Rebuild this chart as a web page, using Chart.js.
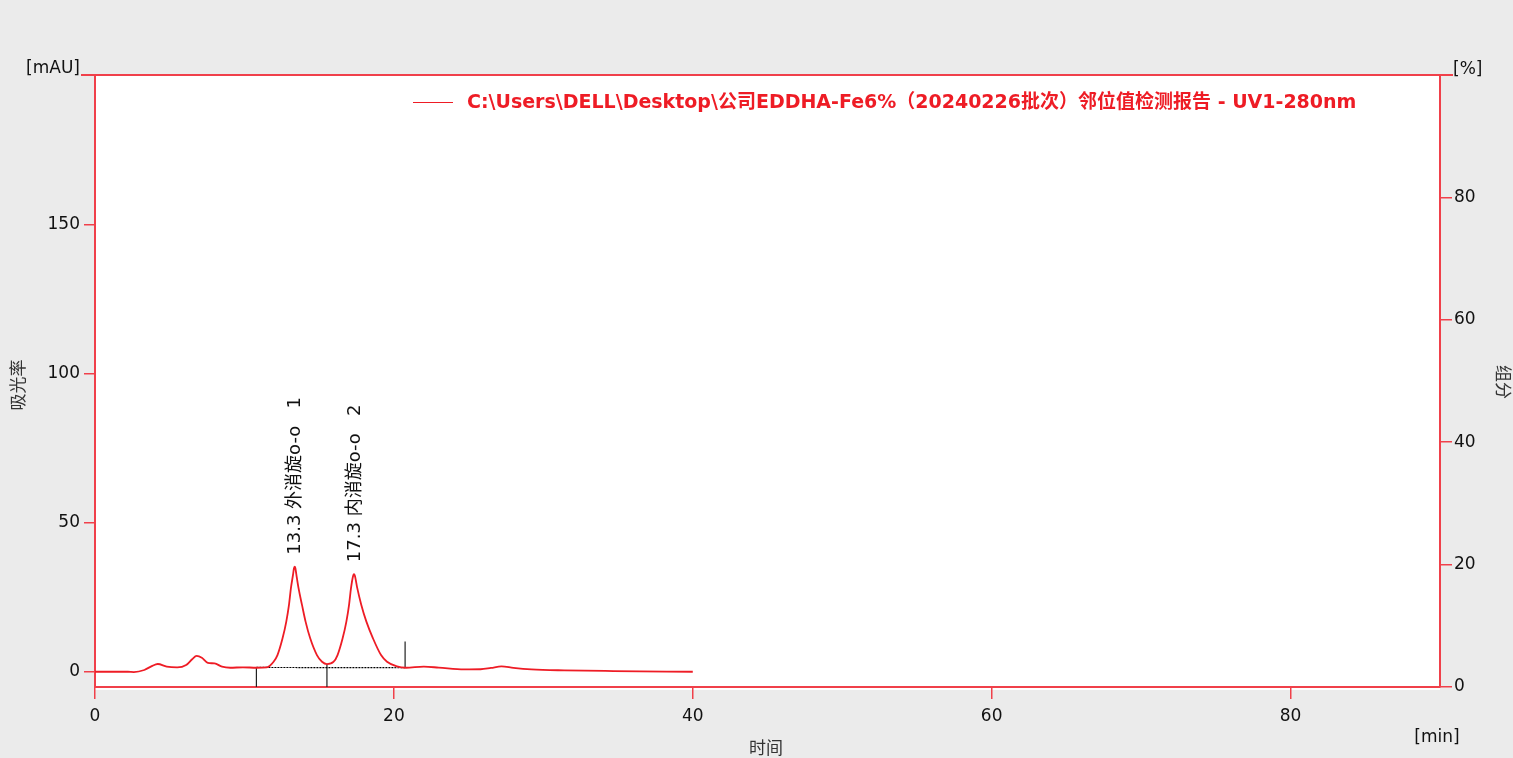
<!DOCTYPE html>
<html>
<head>
<meta charset="utf-8">
<script src="https://cdn.jsdelivr.net/npm/chart.js@4.4.1/dist/chart.umd.min.js"></script>
<style>
  html, body { margin: 0; padding: 0; background: #ebebeb; }
  #wrap { width: 1513px; height: 758px; }
</style>
</head>
<body>
<div id="wrap"><canvas id="myChart"></canvas></div>
<script>
// Datos del cromatograma
const time = [0, 2.2, 2.6, 3.3, 3.8, 4.2, 4.8, 5.5, 6.1, 6.5, 6.8, 7.15, 7.55, 8.0, 8.5, 9.05, 9.9, 10.8, 11.5, 11.95,
  12.21, 12.55, 12.8, 12.98, 13.11, 13.25, 13.31, 13.36, 13.41, 13.47, 13.62, 13.85, 14.09, 14.4, 14.85, 15.19, 15.52,
  15.97, 16.23, 16.57, 16.82, 17.0, 17.13, 17.27, 17.33, 17.39, 17.55, 17.82, 18.16, 18.6, 19.14, 19.54, 20.2, 20.8,
  22.0, 23.0, 24.7, 25.8, 26.5, 27.2, 28.0, 29.2, 31.4, 34.7, 40];
const absorbance = [0.1, 0.1, 0.0, 0.7, 2.0, 2.7, 1.8, 1.55, 2.35, 4.3, 5.4, 4.8, 3.1, 2.9, 1.8, 1.45, 1.6, 1.45, 1.58, 3.46,
  5.7, 11.3, 16.9, 22.5, 28.1, 32.6, 34.7, 35.3, 34.8, 32.8, 28.1, 22.5, 16.9, 11.3, 5.7, 3.46, 2.68,
  3.46, 5.7, 11.3, 16.9, 22.5, 28.1, 32.2, 32.8, 32.3, 28.1, 22.5, 16.9, 11.3, 5.7, 3.46, 1.9, 1.45,
  1.8, 1.5, 0.9, 0.95, 1.4, 1.9, 1.4, 0.9, 0.57, 0.34, 0.1];

// Línea base de integración y marcas de los picos
const baseTime = [10.8, 20.75];
const baseValue = [1.55, 1.45];
const markTime = [10.8, 15.52, 20.75];
const markTop = [1.55, 2.6, 10.2];
const markBottom = [-5, -5, 1.45];

// Etiquetas de los picos
const peakTime = [13.3, 17.3];
const peakHeight = [35.3, 32.8];
const peakName = ['外消旋o-o', '内消旋o-o'];
const peakNo = [1, 2];

// Ticks de los ejes
const xTicks = [0, 20, 40, 60, 80];
const leftTicks = [0, 50, 100, 150];
const rightTicks = [0, 20, 40, 60, 80];

const seriesLabel = 'C:\\Users\\DELL\\Desktop\\公司EDDHA-Fe6%（20240226批次）邻位值检测报告 - UV1-280nm';

const RED = '#ee1c25';
const AXIS = '#f0404a';
const FONT = "'DejaVu Sans', 'Noto Sans CJK SC', sans-serif";
const CJK = "'Noto Sans CJK SC', sans-serif";

const markData = [];
markTime.forEach((t, i) => {
    markData.push({x: t, y: markTop[i]}, {x: t, y: markBottom[i]}, {x: t, y: null});
});

// Fondo gris y área del gráfico en blanco
const background = {
    id: 'background',
    beforeDraw(chart) {
        const {ctx, chartArea: a} = chart;
        ctx.save();
        ctx.fillStyle = '#ebebeb';
        ctx.fillRect(0, 0, chart.width, chart.height);
        ctx.fillStyle = '#ffffff';
        ctx.fillRect(a.left, a.top, a.right - a.left, a.bottom - a.top + 3);
        ctx.restore();
    }
};

// Textos extra: unidades, títulos, leyenda y etiquetas de picos
const extras = {
    id: 'extras',
    afterDraw(chart) {
        const {ctx, chartArea: a, scales} = chart;
        ctx.save();
        // línea superior
        ctx.strokeStyle = AXIS;
        ctx.lineWidth = 2;
        ctx.beginPath();
        ctx.moveTo(81, a.top);
        ctx.lineTo(1453, a.top);
        ctx.stroke();

        ctx.fillStyle = '#111';
        ctx.font = '17px ' + FONT;
        ctx.textBaseline = 'middle';
        ctx.textAlign = 'right';
        ctx.fillText('[mAU]', 80, 69);
        ctx.textAlign = 'left';
        ctx.fillText('[%]', 1453, 70);
        ctx.textAlign = 'center';
        ctx.fillText('[min]', 1437, 738);

        ctx.font = '17px ' + CJK;
        ctx.fillStyle = '#333';
        ctx.fillText('时间', 766, 748);
        ctx.save();
        ctx.translate(18, 385);
        ctx.rotate(-Math.PI / 2);
        ctx.fillText('吸光率', 0, 0);
        ctx.restore();
        ctx.save();
        ctx.translate(1503, 382);
        ctx.rotate(Math.PI / 2);
        ctx.fillText('组分', 0, 0);
        ctx.restore();

        // leyenda
        ctx.strokeStyle = RED;
        ctx.lineWidth = 1;
        ctx.beginPath();
        ctx.moveTo(413, 102.5);
        ctx.lineTo(453, 102.5);
        ctx.stroke();
        ctx.fillStyle = RED;
        ctx.font = 'bold 19px ' + FONT;
        ctx.textAlign = 'left';
        ctx.fillText(seriesLabel, 467, 103);

        // etiquetas de picos
        ctx.fillStyle = '#111';
        ctx.font = '18px ' + FONT;
        peakTime.forEach((t, i) => {
            const px = scales.x.getPixelForValue(t);
            const py = scales.y.getPixelForValue(peakHeight[i]);
            ctx.save();
            ctx.translate(px + 2, py - 12);
            ctx.rotate(-Math.PI / 2);
            ctx.textAlign = 'left';
            ctx.textBaseline = 'middle';
            ctx.fillText(t.toFixed(1) + ' ' + peakName[i] + '   ' + peakNo[i], 0, 0);
            ctx.restore();
        });
        ctx.restore();
    }
};

const ctx = document.getElementById('myChart').getContext('2d');

const myChart = new Chart(ctx, {
    type: 'line',
    data: {
        datasets: [{
            label: seriesLabel,
            data: time.map((t, i) => ({x: t, y: absorbance[i]})),
            borderColor: RED,
            borderWidth: 1.8,
            pointRadius: 0,
            cubicInterpolationMode: 'monotone',
            yAxisID: 'y'
        }, {
            label: 'base',
            data: baseTime.map((t, i) => ({x: t, y: baseValue[i]})),
            borderColor: '#000',
            borderWidth: 1.2,
            borderDash: [2, 1],
            pointRadius: 0,
            yAxisID: 'y'
        }, {
            label: 'marks',
            data: markData,
            borderColor: '#222',
            borderWidth: 1.2,
            pointRadius: 0,
            spanGaps: false,
            yAxisID: 'y'
        }]
    },
    options: {
        responsive: true,
        maintainAspectRatio: false,
        animation: false,
        layout: { padding: { top: 75 } },
        plugins: {
            legend: { display: false },
            tooltip: { enabled: false }
        },
        scales: {
            x: {
                type: 'linear',
                min: 0,
                max: 90,
                afterFit: s => { s.height = 71; },
                afterBuildTicks: s => { s.ticks = xTicks.map(v => ({value: v})); },
                grid: { drawOnChartArea: false, tickLength: 12, color: AXIS, lineWidth: 1.5 },
                border: { color: AXIS, width: 2 },
                ticks: { color: '#111', padding: 7, font: { family: FONT, size: 17 } }
            },
            y: {
                position: 'left',
                min: -5,
                max: 200,
                afterFit: s => { s.width = 95; },
                afterBuildTicks: s => { s.ticks = leftTicks.map(v => ({value: v})); },
                grid: { drawOnChartArea: false, tickLength: 11, color: AXIS, lineWidth: 1.5 },
                border: { color: AXIS, width: 2 },
                ticks: { color: '#111', padding: 4, font: { family: FONT, size: 17 } }
            },
            y2: {
                position: 'right',
                min: 0,
                max: 100,
                afterFit: s => { s.width = 73; },
                afterBuildTicks: s => { s.ticks = rightTicks.map(v => ({value: v})); },
                grid: { drawOnChartArea: false, tickLength: 12, color: AXIS, lineWidth: 1.5 },
                border: { color: AXIS, width: 2 },
                ticks: { color: '#111', padding: 2, font: { family: FONT, size: 17 } }
            }
        }
    },
    plugins: [background, extras]
});
</script>
</body>
</html>
